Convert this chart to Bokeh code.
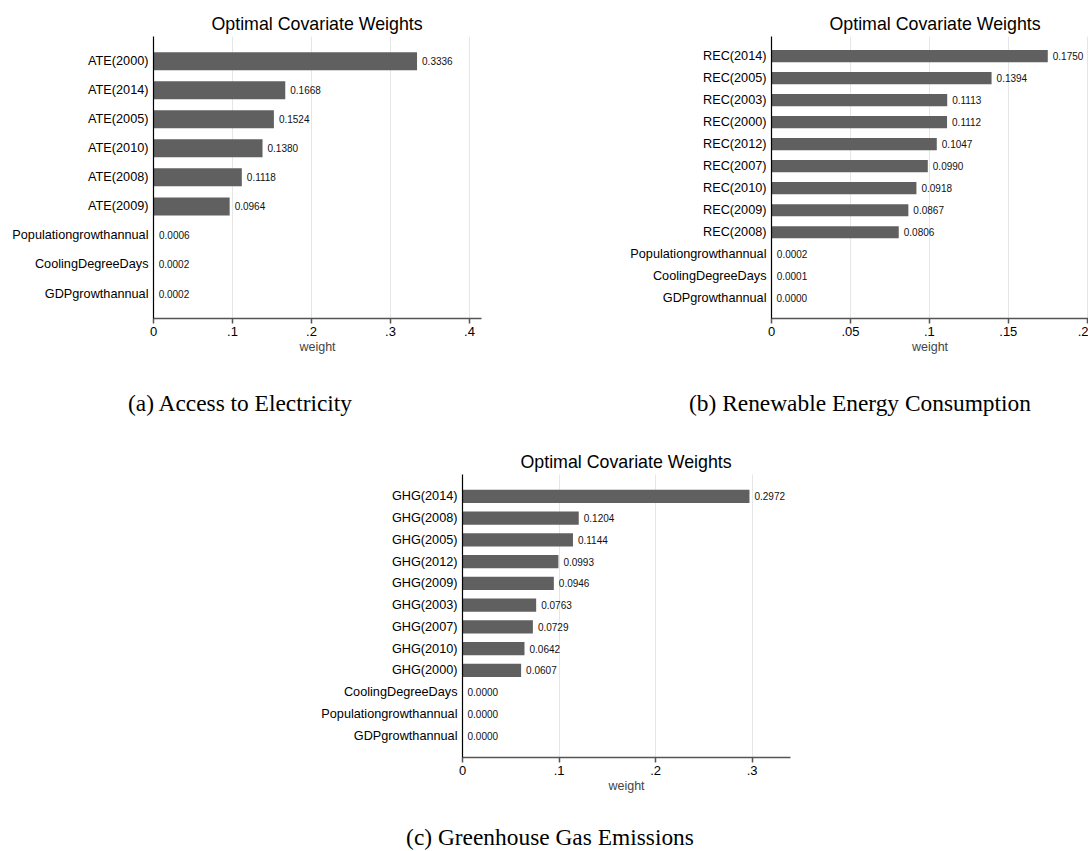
from bokeh.plotting import figure
from bokeh.layouts import column, row
from bokeh.models import ColumnDataSource, FixedTicker, Range1d, Spacer, Div
from bokeh.embed import file_html
from bokeh.resources import INLINE
from bokeh.core.properties import value

# ---- data -------------------------------------------------------------
ate_labels = ["ATE(2000)", "ATE(2014)", "ATE(2005)", "ATE(2010)", "ATE(2008)",
              "ATE(2009)", "Populationgrowthannual", "CoolingDegreeDays",
              "GDPgrowthannual"]
ate_weights = [0.3336, 0.1668, 0.1524, 0.1380, 0.1118, 0.0964, 0.0006, 0.0002, 0.0002]
ate_ticks = [0, 0.1, 0.2, 0.3, 0.4]
ate_tick_labels = ["0", ".1", ".2", ".3", ".4"]

rec_labels = ["REC(2014)", "REC(2005)", "REC(2003)", "REC(2000)", "REC(2012)",
              "REC(2007)", "REC(2010)", "REC(2009)", "REC(2008)",
              "Populationgrowthannual", "CoolingDegreeDays", "GDPgrowthannual"]
rec_weights = [0.1750, 0.1394, 0.1113, 0.1112, 0.1047, 0.0990, 0.0918, 0.0867,
               0.0806, 0.0002, 0.0001, 0.0000]
rec_ticks = [0, 0.05, 0.1, 0.15, 0.2]
rec_tick_labels = ["0", ".05", ".1", ".15", ".2"]

ghg_labels = ["GHG(2014)", "GHG(2008)", "GHG(2005)", "GHG(2012)", "GHG(2009)",
              "GHG(2003)", "GHG(2007)", "GHG(2010)", "GHG(2000)",
              "CoolingDegreeDays", "Populationgrowthannual", "GDPgrowthannual"]
ghg_weights = [0.2972, 0.1204, 0.1144, 0.0993, 0.0946, 0.0763, 0.0729, 0.0642,
               0.0607, 0.0000, 0.0000, 0.0000]
ghg_ticks = [0, 0.1, 0.2, 0.3]
ghg_tick_labels = ["0", ".1", ".2", ".3"]

captions = ["(a) Access to Electricity",
            "(b) Renewable Energy Consumption",
            "(c) Greenhouse Gas Emissions"]

SANS = "Liberation Sans"
SERIF = "Liberation Serif"
BAR = "#606060"


def weight_panel(labels, weights, ticks, tick_labels, *, width, height,
                 left, right, top, bottom, x_end, pad_top, pad_bottom, bar_h):
    n = len(labels)
    pos = [n - 1 - i for i in range(n)]
    src = ColumnDataSource(dict(
        y=pos, w=weights, txt=["%.4f" % v for v in weights]))

    p = figure(width=width, height=height, output_backend="svg",
               toolbar_location=None,
               x_range=Range1d(0, x_end),
               y_range=Range1d(-pad_bottom, n - 1 + pad_top),
               min_border_left=left, min_border_right=right,
               min_border_top=top, min_border_bottom=bottom)
    p.outline_line_color = None
    p.background_fill_color = "white"
    p.border_fill_color = "white"

    # chart heading above the frame
    p.title.text = "Optimal Covariate Weights"
    p.title.align = "left"
    p.title.offset = 58
    p.title.text_font = SANS
    p.title.text_font_size = "17.8px"
    p.title.text_font_style = "normal"
    p.title.text_color = "black"
    p.title.standoff = 6

    p.hbar(y="y", left=0, right="w", height=bar_h, source=src,
           fill_color=BAR, line_color=None)
    p.text(x="w", y="y", text="txt", source=src, x_offset=5,
           text_baseline="middle", text_align="left",
           text_font=value(SANS), text_font_size="10px", text_color="#111111")

    # horizontal axis
    xa = p.xaxis[0]
    xa.ticker = FixedTicker(ticks=ticks)
    xa.major_label_overrides = {t: s for t, s in zip(ticks, tick_labels)}
    xa.minor_tick_line_color = None
    xa.major_tick_out = 5
    xa.major_tick_in = 0
    xa.axis_line_color = "#555555"
    xa.axis_line_width = 1.5
    xa.major_tick_line_color = "#555555"
    xa.major_tick_line_width = 1.5
    xa.major_label_text_font = SANS
    xa.major_label_text_font_size = "13px"
    xa.major_label_text_color = "black"
    xa.major_label_standoff = 3
    xa.axis_label = "weight"
    xa.axis_label_text_font = SANS
    xa.axis_label_text_font_size = "12.5px"
    xa.axis_label_text_font_style = "normal"
    xa.axis_label_standoff = 1

    # vertical axis with covariate names
    ya = p.yaxis[0]
    ya.ticker = FixedTicker(ticks=pos)
    ya.major_label_overrides = {y: s for y, s in zip(pos, labels)}
    ya.major_tick_out = 0
    ya.major_tick_in = 0
    ya.minor_tick_line_color = None
    ya.axis_line_color = "black"
    ya.axis_line_width = 1.2
    ya.major_label_text_font = SANS
    ya.major_label_text_font_size = "12.7px"
    ya.major_label_text_color = "black"
    ya.major_label_standoff = 5

    p.xgrid[0].ticker = FixedTicker(ticks=ticks)
    p.xgrid[0].grid_line_color = "#e6e6e6"
    p.ygrid[0].grid_line_color = None
    return p


def caption_block(text, width, height, cx, cy):
    html = (
        f'<div style="position:relative;width:{width}px;height:{height}px;">'
        f'<span style="position:absolute;left:{cx}px;top:{cy}px;'
        f'transform:translate(-50%,-50%);white-space:nowrap;'
        f"font-family:'{SERIF}',serif;font-size:23.4px;line-height:1;"
        f'color:black;">{text}</span></div>'
    )
    return Div(text=html, width=width, height=height, margin=0)


pa = weight_panel(ate_labels, ate_weights, ate_ticks, ate_tick_labels,
                  width=600, height=362, left=153, right=119, top=36, bottom=44,
                  x_end=0.4152, pad_top=0.85, pad_bottom=0.86, bar_h=0.62)
pb = weight_panel(rec_labels, rec_weights, rec_ticks, rec_tick_labels,
                  width=488, height=362, left=171, right=0, top=36, bottom=44,
                  x_end=0.2008, pad_top=0.89, pad_bottom=0.92, bar_h=0.55)
pc = weight_panel(ghg_labels, ghg_weights, ghg_ticks, ghg_tick_labels,
                  width=500, height=381, left=162, right=10, top=54, bottom=44,
                  x_end=0.3397, pad_top=1.01, pad_bottom=1.01, bar_h=0.61)

cap_a = caption_block(captions[0], 600, 58, 240, 42)
cap_b = caption_block(captions[1], 488, 58, 260, 42)
cap_c = caption_block(captions[2], 1088, 50, 550, 37)

layout = column(
    row(pa, pb, spacing=0),
    row(cap_a, cap_b, spacing=0),
    row(Spacer(width=300, height=381, margin=0), pc, spacing=0),
    cap_c,
    spacing=0,
)

html = file_html(layout, INLINE, title="Optimal Covariate Weights")
html = html.replace(
    "<head>",
    "<head><style>html,body{margin:0;padding:0;background:white;overflow:hidden;}</style>",
    1)
open("out.html", "w").write(html)
